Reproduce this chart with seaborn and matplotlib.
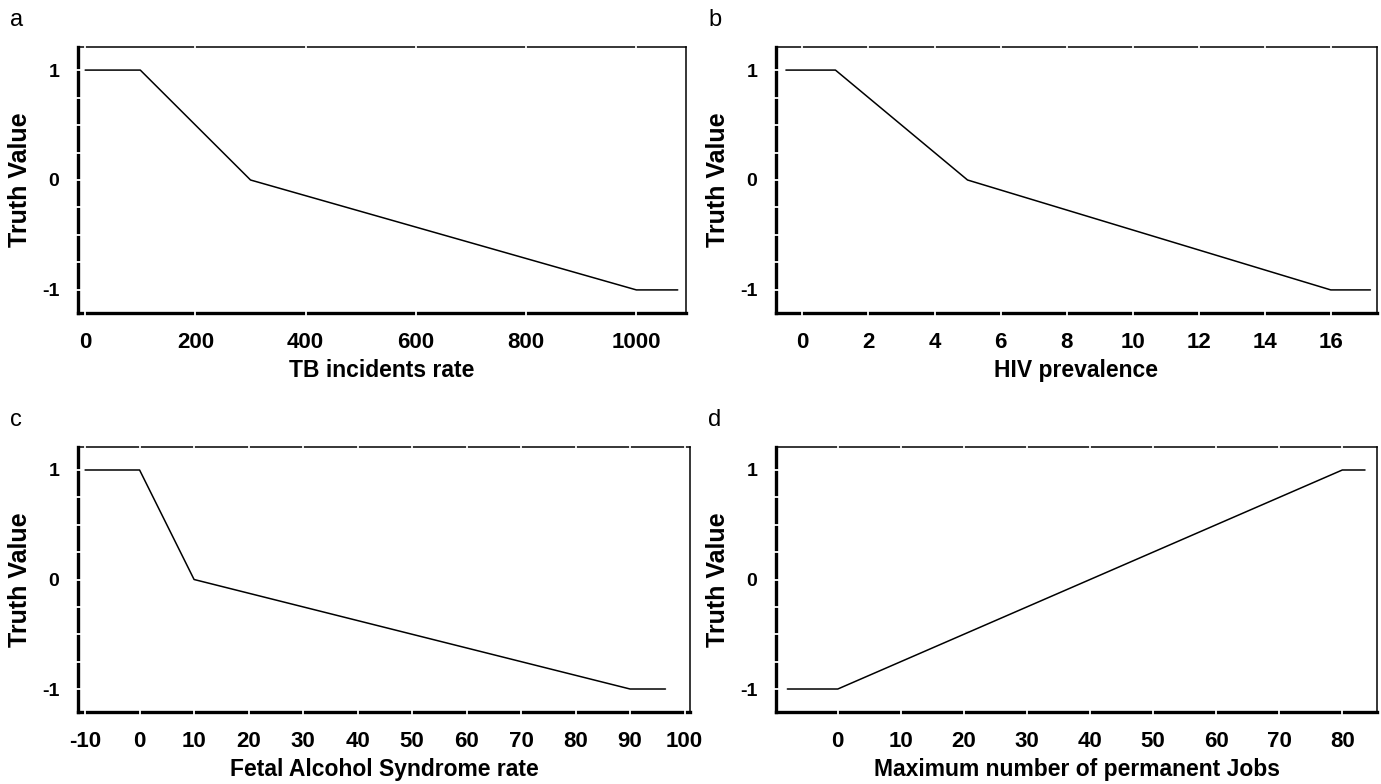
import numpy as np
import pandas as pd
import matplotlib
matplotlib.use("Agg")
import matplotlib.pyplot as plt
import seaborn as sns
from matplotlib.ticker import MultipleLocator

# breakpoints of the four truth-value functions
tb_x = [0, 100, 300, 1000, 1075]
tb_y = [1, 1, 0, -1, -1]
hiv_x = [-0.5, 1, 5, 16, 17.2]
hiv_y = [1, 1, 0, -1, -1]
fas_x = [-10, 0, 10, 90, 96.5]
fas_y = [1, 1, 0, -1, -1]
jobs_x = [-8, 0, 80, 83.6]
jobs_y = [-1, -1, 1, 1]

xlabels = ['TB incidents rate', 'HIV prevalence',
           'Fetal Alcohol Syndrome rate', 'Maximum number of permanent Jobs']
letters = ['a', 'b', 'c', 'd']

sns.set_style('ticks')
plt.rcParams['font.family'] = ['Liberation Sans', 'DejaVu Sans']
plt.rcParams['axes.unicode_minus'] = False
plt.rcParams['text.color'] = 'black'
plt.rcParams['axes.labelcolor'] = 'black'

fig = plt.figure(figsize=(13.81, 7.84), dpi=100)
W, H = 1381, 784
# axes boxes in pixels: left, top, right, bottom
boxes = [(78, 47, 686, 313), (776, 47, 1377, 313),
         (78, 447, 690, 712), (776, 447, 1377, 712)]
panels = [(tb_x, tb_y, (-13, 1090), 200),
          (hiv_x, hiv_y, (-0.8, 17.4), 2),
          (fas_x, fas_y, (-11.3, 101), 10),
          (jobs_x, jobs_y, (-9.8, 85.5), 10)]

for i, ((l, t, r, b), (xs, ys, xlim, step)) in enumerate(zip(boxes, panels)):
    ax = fig.add_axes([l / W, 1 - b / H, (r - l) / W, (b - t) / H])
    df = pd.DataFrame({'x': xs, 'y': ys})
    sns.lineplot(data=df, x='x', y='y', ax=ax, color='black', linewidth=1.1,
                 sort=False, estimator=None)
    ax.set_xlim(*xlim)
    ax.set_ylim(-1.21, 1.21)
    ax.xaxis.set_major_locator(MultipleLocator(step))
    ax.yaxis.set_major_locator(MultipleLocator(1))
    ax.yaxis.set_minor_locator(MultipleLocator(0.25))
    for side in ['left', 'bottom']:
        ax.spines[side].set_linewidth(2.4)
        ax.spines[side].set_color('black')
    for side in ['top', 'right']:
        ax.spines[side].set_linewidth(1.1)
        ax.spines[side].set_color('black')
        ax.spines[side].set_visible(True)
    # white tick marks that cut small gaps into the frame
    ax.xaxis.set_zorder(3)
    ax.yaxis.set_zorder(3)
    ax.tick_params(axis='both', which='both', direction='inout', color='white',
                   width=1.3, length=7, top=True, right=False,
                   labelcolor='black')
    ax.tick_params(axis='x', which='major', pad=10, labelsize=16)
    ax.tick_params(axis='y', which='major', pad=10, labelsize=14)
    for lab in ax.get_xticklabels() + ax.get_yticklabels():
        lab.set_fontweight('bold')
    ax.set_xlabel(xlabels[i], fontsize=16.5, fontweight='bold', va='top')
    ax.xaxis.set_label_coords(0.5, -46 / (b - t))
    ax.set_ylabel('Truth Value', fontsize=18, fontweight='bold')
    ax.yaxis.set_label_coords(-46 / (r - l), 0.5)
    fig.text((l - 68) / W, 1 - (t - 27) / H, letters[i], fontsize=17,
             ha='left', va='center')

fig.savefig('out.png', dpi=100)
